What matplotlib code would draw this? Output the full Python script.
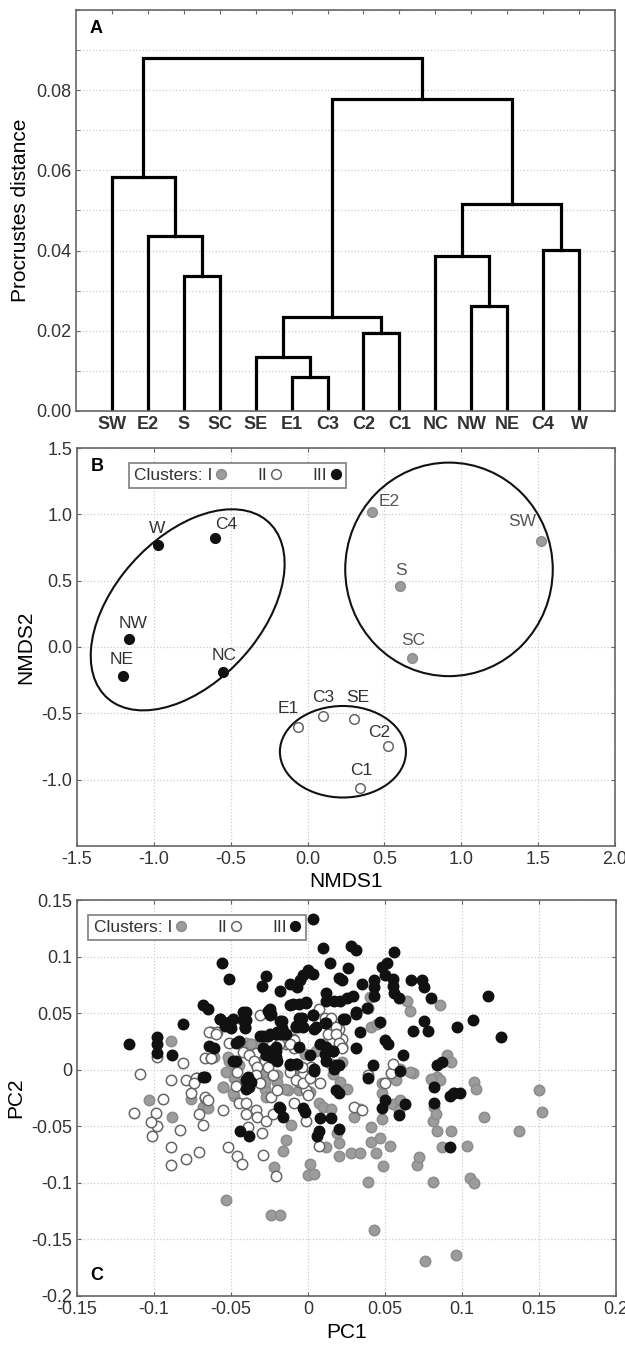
import matplotlib
matplotlib.use("Agg")
import matplotlib.pyplot as plt
from matplotlib.patches import Ellipse
from matplotlib.lines import Line2D
from matplotlib.ticker import MultipleLocator

plt.rcParams['font.family'] = ['Liberation Sans', 'DejaVu Sans']
plt.rcParams['axes.unicode_minus'] = False

# ---- panel A: dendrogram ----
leaves = ['SW', 'E2', 'S', 'SC', 'SE', 'E1', 'C3', 'C2', 'C1', 'NC', 'NW', 'NE', 'C4', 'W']
# (left, right, height); ints refer to earlier merges
merges = [
    ('E1', 'C3', 0.0085),
    ('SE', 0, 0.0135),
    ('C2', 'C1', 0.0195),
    (1, 2, 0.0235),
    ('NW', 'NE', 0.0262),
    ('NC', 4, 0.0386),
    ('C4', 'W', 0.0402),
    (5, 6, 0.0517),
    (3, 7, 0.0777),
    ('S', 'SC', 0.0336),
    ('E2', 9, 0.0437),
    ('SW', 10, 0.0584),
    (11, 8, 0.0879),
]

# ---- panel B: NMDS ----
nmds_names = ['W', 'C4', 'NW', 'NE', 'NC', 'E2', 'SW', 'S', 'SC', 'E1', 'C3', 'SE', 'C2', 'C1']
nmds1 = [-0.97, -0.60, -1.16, -1.20, -0.55, 0.42, 1.52, 0.60, 0.68, -0.06, 0.10, 0.30, 0.52, 0.34]
nmds2 = [0.77, 0.82, 0.06, -0.22, -0.19, 1.02, 0.80, 0.46, -0.08, -0.60, -0.52, -0.54, -0.75, -1.06]
nmds_cluster = ['III', 'III', 'III', 'III', 'III', 'I', 'I', 'I', 'I', 'II', 'II', 'II', 'II', 'II']
# ellipses: centre x, centre y, width, height, angle
ellipses = [(-0.78, 0.28, 1.70, 1.00, 56), (0.92, 0.585, 1.35, 1.61, 0), (0.23, -0.79, 0.82, 0.69, 0)]

# ---- panel C: PCA ----
pc_I = [
    (-0.089, 0.025), (-0.103, -0.027), (-0.088, -0.042), (-0.076, -0.026), (-0.068, -0.033),
    (-0.065, -0.034), (-0.055, -0.015), (-0.053, -0.115), (-0.051, 0.008), (-0.050, -0.001),
    (-0.048, -0.007), (-0.048, -0.023), (-0.040, 0.024), (-0.037, 0.023), (-0.034, 0.004),
    (-0.032, -0.006), (-0.028, -0.017), (-0.027, -0.024), (-0.024, -0.128), (-0.018, -0.128),
    (-0.022, -0.086), (-0.016, -0.072), (-0.014, -0.062), (-0.013, -0.018), (-0.011, -0.049),
    (-0.003, -0.013), (0.001, -0.020), (0.000, -0.093), (0.004, -0.092), (0.001, -0.083),
    (0.007, -0.029), (0.010, -0.033), (0.015, -0.035), (0.012, -0.068), (0.019, -0.056),
    (0.020, -0.065), (0.020, -0.076), (0.025, -0.017), (0.028, -0.074), (0.034, -0.074),
    (0.030, -0.042), (0.034, -0.035), (0.039, -0.099), (0.041, 0.038), (0.043, -0.142),
    (0.041, -0.051), (0.041, -0.064), (0.044, -0.074), (0.040, 0.064), (0.047, -0.060),
    (0.048, -0.044), (0.048, -0.021), (0.049, -0.085), (0.053, -0.067), (0.055, -0.030),
    (0.059, -0.036), (0.060, -0.027), (0.064, 0.061), (0.066, 0.052), (0.068, -0.003),
    (0.071, -0.084), (0.072, -0.077), (0.076, -0.169), (0.081, -0.045), (0.081, -0.099),
    (0.084, -0.054), (0.084, -0.006), (0.086, -0.009), (0.086, 0.057), (0.087, -0.068),
    (0.090, 0.013), (0.093, 0.007), (0.093, -0.054), (0.094, -0.021), (0.096, -0.164),
    (0.103, -0.067), (0.105, -0.096), (0.108, -0.100), (0.108, -0.011), (0.109, -0.017),
    (0.114, -0.042), (0.137, -0.054), (0.150, -0.018), (0.152, -0.037), (0.082, -0.033),
    (0.083, -0.039), (0.015, 0.005), (0.022, 0.007), (0.007, 0.020), (0.010, 0.023),
    (-0.061, 0.011), (-0.030, 0.024), (-0.020, -0.005), (-0.005, -0.005), (0.045, 0.040),
    (-0.052, 0.011), (-0.045, 0.004), (-0.037, 0.023), (-0.034, 0.014), (-0.053, -0.002),
    (-0.055, -0.015), (-0.049, -0.021), (-0.029, -0.002), (-0.028, -0.011), (-0.020, -0.011),
    (-0.015, -0.017), (-0.006, -0.018), (-0.002, 0.014), (0.005, 0.017), (0.060, 0.001),
    (0.066, -0.002), (0.080, -0.008), (0.016, -0.004), (0.021, -0.011), (0.048, -0.012),
    (0.057, -0.009),
]
pc_II = [
    (-0.109, -0.004), (-0.113, -0.038), (-0.098, 0.011), (-0.099, -0.038), (-0.098, -0.050),
    (-0.102, -0.046), (-0.101, -0.059), (-0.094, -0.026), (-0.089, -0.009), (-0.089, -0.068),
    (-0.089, -0.084), (-0.083, -0.053), (-0.081, 0.006), (-0.079, -0.079), (-0.079, -0.009),
    (-0.076, -0.021), (-0.072, -0.007), (-0.071, -0.039), (-0.071, -0.073), (-0.068, -0.049),
    (-0.067, 0.010), (-0.067, -0.025), (-0.063, 0.033), (-0.063, 0.010), (-0.059, 0.033),
    (-0.055, -0.036), (-0.052, -0.068), (-0.046, -0.076), (-0.043, -0.083), (-0.051, 0.024),
    (-0.045, -0.029), (-0.046, -0.002), (-0.040, -0.029), (-0.039, -0.051), (-0.040, -0.039),
    (-0.037, 0.013), (-0.034, 0.015), (-0.034, -0.036), (-0.033, -0.042), (-0.031, 0.048),
    (-0.030, -0.056), (-0.029, -0.075), (-0.028, 0.008), (-0.027, -0.045), (-0.024, -0.024),
    (-0.023, -0.039), (-0.021, -0.094), (-0.020, -0.018), (-0.014, 0.023), (-0.009, 0.019),
    (-0.010, 0.027), (-0.009, -0.029), (-0.006, -0.011), (-0.003, -0.005), (-0.001, -0.018),
    (0.000, -0.022), (-0.001, -0.045), (0.007, 0.054), (0.011, 0.046), (0.015, 0.046),
    (0.007, -0.067), (0.013, 0.032), (0.020, 0.036), (0.022, 0.027), (0.022, 0.020),
    (0.030, -0.033), (0.035, -0.036), (0.039, 0.055), (0.050, -0.012), (0.054, -0.003),
    (0.055, 0.005), (0.002, 0.002), (-0.006, 0.038), (-0.009, 0.026),
    (-0.064, 0.033), (-0.060, 0.032), (-0.063, 0.010), (-0.042, 0.016), (-0.038, 0.013),
    (-0.035, 0.008), (-0.033, 0.002), (-0.034, -0.005), (-0.031, -0.012), (-0.026, 0.002),
    (-0.023, -0.005), (-0.047, -0.014), (-0.073, -0.007), (-0.074, -0.012), (-0.067, -0.024),
    (-0.065, -0.027), (-0.012, -0.002), (-0.008, -0.009), (-0.003, -0.012), (0.001, -0.007),
    (0.008, -0.012), (-0.004, 0.002), (-0.012, 0.023), (-0.019, 0.023), (0.018, 0.038),
    (0.018, 0.032), (0.020, 0.024), (0.022, 0.019), (0.039, -0.005),
]
pc_III = [
    (-0.116, 0.023), (-0.098, 0.029), (-0.098, 0.023), (-0.098, 0.015), (-0.088, 0.013),
    (-0.081, 0.040), (-0.067, -0.006), (-0.068, 0.057), (-0.065, 0.054), (-0.057, 0.045),
    (-0.056, 0.094), (-0.051, 0.080), (-0.054, 0.039), (-0.050, 0.037), (-0.045, 0.025),
    (-0.047, 0.008), (-0.040, 0.051), (-0.040, 0.044), (-0.041, 0.038), (-0.040, -0.009),
    (-0.040, -0.017), (-0.037, -0.011), (-0.044, -0.054), (-0.038, -0.059), (-0.030, 0.074),
    (-0.027, 0.083), (-0.029, 0.030), (-0.026, 0.030), (-0.021, 0.032), (-0.025, 0.054),
    (-0.024, 0.049), (-0.029, 0.019), (-0.027, 0.013), (-0.021, 0.011), (-0.021, 0.017),
    (-0.018, 0.070), (-0.012, 0.076), (-0.017, 0.043), (-0.017, 0.037), (-0.018, 0.032),
    (-0.014, 0.032), (-0.018, -0.034), (-0.016, -0.042), (-0.012, 0.004), (-0.007, 0.005),
    (-0.010, 0.058), (-0.007, 0.073), (-0.005, 0.079), (-0.003, 0.084), (-0.008, 0.038),
    (-0.006, 0.046), (-0.003, 0.038), (-0.003, -0.034), (-0.002, -0.037), (0.000, 0.088),
    (0.003, 0.085), (-0.001, 0.060), (0.003, 0.048), (0.003, 0.133), (0.004, -0.001),
    (0.005, 0.038), (0.006, -0.059), (0.007, -0.054), (0.010, 0.108), (0.012, 0.068),
    (0.012, 0.061), (0.012, 0.041), (0.012, 0.020), (0.012, 0.008), (0.014, 0.094),
    (0.015, -0.043), (0.008, -0.043), (0.020, 0.081), (0.022, 0.079), (0.020, 0.004),
    (0.020, -0.021), (0.020, -0.052), (0.017, 0.061), (0.021, 0.061), (0.025, 0.063),
    (0.029, 0.065), (0.024, 0.045), (0.026, 0.090), (0.028, 0.109), (0.031, 0.106),
    (0.031, 0.019), (0.034, 0.033), (0.031, 0.051), (0.035, 0.076), (0.038, 0.055),
    (0.042, 0.004), (0.043, 0.065), (0.043, 0.079), (0.043, 0.073), (0.039, -0.007),
    (0.047, 0.042), (0.048, 0.091), (0.050, 0.084), (0.051, 0.094), (0.050, 0.026),
    (0.052, 0.023), (0.050, -0.027), (0.048, -0.034), (0.055, 0.080), (0.055, 0.074),
    (0.056, 0.068), (0.056, 0.104), (0.059, 0.063), (0.059, -0.040), (0.060, -0.001),
    (0.062, 0.013), (0.063, -0.030), (0.067, 0.079), (0.074, 0.079), (0.075, 0.073),
    (0.068, 0.034), (0.075, 0.043), (0.078, 0.034), (0.080, 0.063), (0.082, -0.015),
    (0.082, -0.029), (0.084, 0.004), (0.087, 0.007), (0.092, -0.023), (0.095, -0.021),
    (0.099, -0.021), (0.092, -0.068), (0.097, 0.038), (0.107, 0.044), (0.117, 0.065),
    (0.125, 0.029),
    (-0.057, 0.045), (-0.051, 0.042), (-0.049, 0.045), (-0.042, 0.051), (-0.042, 0.044),
    (-0.041, 0.037), (-0.026, 0.052), (-0.025, 0.048), (-0.031, 0.030), (-0.025, 0.032),
    (-0.020, 0.033), (-0.017, 0.036), (-0.018, 0.043), (-0.015, 0.032), (-0.012, 0.057),
    (-0.006, 0.058), (-0.001, 0.059), (-0.008, 0.039), (-0.004, 0.046), (0.003, 0.048),
    (0.004, 0.036), (0.011, 0.041), (-0.064, 0.021), (-0.061, 0.019), (-0.047, 0.024),
    (-0.049, 0.008), (-0.025, 0.017), (-0.024, 0.011), (-0.021, 0.020), (-0.020, 0.008),
    (-0.012, 0.005), (-0.008, 0.005), (-0.006, 0.020), (0.001, 0.013), (0.004, 0.001),
    (0.008, 0.023), (0.011, 0.014), (0.016, 0.017), (0.018, 0.004), (-0.068, -0.006),
    (-0.040, -0.009), (-0.038, -0.015), (-0.039, -0.006), (-0.019, -0.033), (0.018, -0.018),
    (0.023, 0.045), (0.031, 0.049), (0.017, 0.001), (0.016, 0.017),
]

# label offsets (points) for NMDS names
lab_off = {'W': (-1, 12), 'C4': (8, 10), 'NW': (3, 11), 'NE': (-1, 12), 'NC': (1, 12),
           'E2': (12, 7), 'SW': (-14, 14), 'S': (1, 11), 'SC': (1, 12),
           'E1': (-7, 13), 'C3': (0, 13), 'SE': (3, 15), 'C2': (-6, 10), 'C1': (1, 12)}

style = {'I': dict(facecolor='#9c9c9c', edgecolor='#8c8c8c'),
         'II': dict(facecolor='white', edgecolor='#666666'),
         'III': dict(facecolor='#111111', edgecolor='#111111')}
tick_col = '#333333'
spine_col = '#666666'
grid_kw = dict(color='#cccccc', linestyle=':', linewidth=0.9)

fig = plt.figure(figsize=(6.25, 13.47), dpi=100)
axA = fig.add_axes([0.1216, 0.6949, 0.8624, 0.2977])
axB = fig.add_axes([0.1232, 0.3720, 0.8608, 0.2954])
axC = fig.add_axes([0.1232, 0.0379, 0.8624, 0.2939])


def frame(ax):
    for s in ax.spines.values():
        s.set_color(spine_col)
        s.set_linewidth(1.2)
    ax.tick_params(which='both', direction='in', top=True, right=True, colors=spine_col,
                   labelcolor=tick_col, labelsize=13, length=3)


def legend(ax, x0):
    h = [Line2D([], [], linestyle='', marker='o', markersize=7, markeredgewidth=1.1,
                markerfacecolor=style[c]['facecolor'], markeredgecolor=style[c]['edgecolor'])
         for c in ['I', 'II', 'III']]
    lg = ax.legend(h, ['Clusters: I', 'II', 'III'], ncol=3, markerfirst=False, loc='upper left',
                   bbox_to_anchor=(x0, 0.985), fontsize=12.5, handlelength=0.6,
                   handletextpad=0.2, columnspacing=1.8, borderpad=0.3, fancybox=False,
                   framealpha=1, labelcolor=tick_col)
    lg.get_frame().set_edgecolor('#888888')
    lg.get_frame().set_linewidth(1.3)


# panel A
pos = {n: i + 1 for i, n in enumerate(leaves)}
node_x, node_h = [], []
for l, r, h in merges:
    xl = pos[l] if isinstance(l, str) else node_x[l]
    hl = 0 if isinstance(l, str) else node_h[l]
    xr = pos[r] if isinstance(r, str) else node_x[r]
    hr = 0 if isinstance(r, str) else node_h[r]
    axA.plot([xl, xl, xr, xr], [hl, h, h, hr], color='black', lw=2.3, solid_joinstyle='miter')
    node_x.append((xl + xr) / 2)
    node_h.append(h)
axA.set_xlim(0, 15)
axA.set_ylim(0, 0.1)
axA.set_xticks(range(1, len(leaves) + 1))
axA.set_xticklabels(leaves, fontweight='bold', fontsize=12.5)
axA.set_yticks([0, 0.02, 0.04, 0.06, 0.08])
axA.set_yticklabels(['0.00', '0.02', '0.04', '0.06', '0.08'])
axA.yaxis.set_minor_locator(MultipleLocator(0.01))
axA.grid(axis='y', which='both', **grid_kw)
axA.set_axisbelow(True)
frame(axA)
axA.set_ylabel('Procrustes distance', fontsize=15)
axA.text(0.025, 0.975, 'A', transform=axA.transAxes, fontsize=13, fontweight='bold',
         va='top', ha='left')

# panel B
for c in ['I', 'II', 'III']:
    xs = [x for x, k in zip(nmds1, nmds_cluster) if k == c]
    ys = [y for y, k in zip(nmds2, nmds_cluster) if k == c]
    axB.scatter(xs, ys, s=48, linewidths=1.1, zorder=3, **style[c])
for n, x, y, k in zip(nmds_names, nmds1, nmds2, nmds_cluster):
    col = '#333333' if k != 'I' else '#555555'
    axB.annotate(n, (x, y), xytext=lab_off[n], textcoords='offset points', ha='center',
                 va='center', fontsize=12.5, color=col)
for cx, cy, w, h, a in ellipses:
    axB.add_patch(Ellipse((cx, cy), w, h, angle=a, fill=False, edgecolor='#111111', lw=1.5))
axB.set_xlim(-1.5, 2.0)
axB.set_ylim(-1.5, 1.5)
axB.set_xticks([-1.5, -1.0, -0.5, 0.0, 0.5, 1.0, 1.5, 2.0])
axB.set_yticks([-1.0, -0.5, 0.0, 0.5, 1.0, 1.5])
axB.grid(**grid_kw)
axB.set_axisbelow(True)
frame(axB)
axB.set_xlabel('NMDS1', fontsize=15, labelpad=3)
axB.set_ylabel('NMDS2', fontsize=15)
axB.text(0.025, 0.975, 'B', transform=axB.transAxes, fontsize=13, fontweight='bold',
         va='top', ha='left')
legend(axB, 0.08)

# panel C
for c, pts in [('I', pc_I), ('II', pc_II), ('III', pc_III)]:
    axC.scatter([p[0] for p in pts], [p[1] for p in pts], s=56, linewidths=1.1,
                zorder=3, **style[c])
axC.set_xlim(-0.15, 0.2)
axC.set_ylim(-0.2, 0.15)
axC.set_xticks([-0.15, -0.1, -0.05, 0, 0.05, 0.1, 0.15, 0.2])
axC.set_xticklabels(['-0.15', '-0.1', '-0.05', '0', '0.05', '0.1', '0.15', '0.2'])
axC.set_yticks([-0.2, -0.15, -0.1, -0.05, 0, 0.05, 0.1, 0.15])
axC.set_yticklabels(['-0.2', '-0.15', '-0.1', '-0.05', '0', '0.05', '0.1', '0.15'])
axC.grid(**grid_kw)
axC.set_axisbelow(True)
frame(axC)
axC.set_xlabel('PC1', fontsize=15)
axC.set_ylabel('PC2', fontsize=15)
axC.text(0.025, 0.03, 'C', transform=axC.transAxes, fontsize=13, fontweight='bold',
         va='bottom', ha='left')
legend(axC, 0.005)

fig.savefig('out.png', dpi=100)
